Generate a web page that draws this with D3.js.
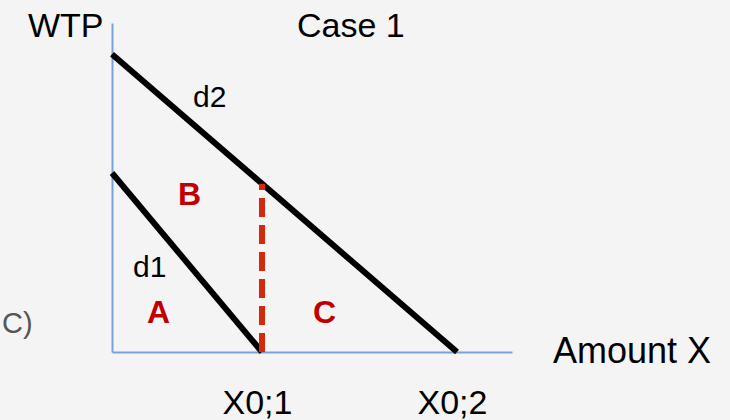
<!DOCTYPE html>
<html>
<head>
<meta charset="utf-8">
<script src="https://cdn.jsdelivr.net/npm/d3@7"></script>
<style>
  body { margin: 0; background: #f4f4f4; }
  svg { display: block; font-family: "Liberation Sans", Arial, sans-serif; }
</style>
</head>
<body>
<div id="container"></div>
<script>
/* CONSTANTS AND GLOBALS */
const width = 730,
  height = 420,
  margin = {top: 23, bottom: 68, left: 112, right: 218};

// demand curves: WTP at zero quantity, and quantity where WTP hits zero
const demandNames = ["d1", "d2"];
const intercepts = [54.4, 90.5];
const quantities = [37.5, 86.25];

// x tick labels sit under the two zero-WTP quantities
const tickLabels = ["X0;1", "X0;2"];

// area labels (data coords)
const areaNames = ["A", "B", "C"];
const areaX = [8.75, 16.5, 50.25];
const areaY = [8.8, 44.7, 8.8];

// curve labels (data coords)
const curveLabelX = [5.25, 20.25];
const curveLabelY = [22.8, 74.5];

/* SCALES */
const xScale = d3.scaleLinear()
  .domain([0, 100])
  .range([margin.left, width - margin.right]);

const yScale = d3.scaleLinear()
  .domain([0, 100])
  .range([height - margin.bottom, margin.top]);

/* CREATE SVG ELEMENT */
const svg = d3.select("#container").append("svg")
  .attr("width", width)
  .attr("height", height)
  .style("background-color", "#f4f4f4");

/* AXES */
const xAxis = d3.axisBottom(xScale)
  .tickValues(quantities)
  .tickFormat((d, i) => tickLabels[i])
  .tickSizeInner(0)
  .tickSizeOuter(0)
  .tickPadding(38);

const yAxis = d3.axisLeft(yScale)
  .tickValues([])
  .tickSizeOuter(0);

const gx = svg.append("g")
  .attr("transform", `translate(0,${yScale(0)})`)
  .call(xAxis);

const gy = svg.append("g")
  .attr("transform", `translate(${xScale(0)},0)`)
  .call(yAxis);

svg.selectAll(".domain")
  .attr("stroke", "#76a3da")
  .attr("stroke-width", 2);

gx.selectAll(".tick text")
  .attr("font-family", "Liberation Sans, Arial, sans-serif")
  .attr("font-size", 34)
  .attr("fill", "#000")
  .attr("dx", -5);

/* DEMAND LINES */
const demand = demandNames.map((name, i) => ({
  name: name,
  pts: [[0, intercepts[i]], [quantities[i], 0]]
}));

const line = d3.line()
  .x(d => xScale(d[0]))
  .y(d => yScale(d[1]));

svg.selectAll("path.demand")
  .data(demand)
  .join("path")
  .attr("class", "demand")
  .attr("d", d => line(d.pts))
  .attr("stroke", "#000")
  .attr("stroke-width", 6)
  .attr("fill", "none");

// dashed drop line from d2 at X0;1 down to the axis
const d2At = q => intercepts[1] * (1 - q / quantities[1]);
svg.append("path")
  .attr("d", line([[quantities[0], 0], [quantities[0], d2At(quantities[0])]]))
  .attr("stroke", "#d42a0c")
  .attr("stroke-width", 6)
  .attr("stroke-dasharray", "19,8")
  .attr("fill", "none");

/* LABELS */
svg.selectAll("text.curve")
  .data(demandNames)
  .join("text")
  .attr("class", "curve")
  .attr("x", (d, i) => xScale(curveLabelX[i]))
  .attr("y", (d, i) => yScale(curveLabelY[i]))
  .attr("font-size", 30)
  .attr("fill", "#000")
  .text(d => d);

svg.selectAll("text.area")
  .data(areaNames)
  .join("text")
  .attr("class", "area")
  .attr("x", (d, i) => xScale(areaX[i]))
  .attr("y", (d, i) => yScale(areaY[i]))
  .attr("font-size", 32)
  .attr("font-weight", "bold")
  .attr("fill", "#c00000")
  .text(d => d);

svg.append("text")
  .attr("x", 28).attr("y", 37)
  .attr("font-size", 34)
  .text("WTP");

svg.append("text")
  .attr("x", 297).attr("y", 37)
  .attr("font-size", 34)
  .text("Case 1");

svg.append("text")
  .attr("x", 553).attr("y", 363)
  .attr("font-size", 36)
  .text("Amount X");

svg.append("text")
  .attr("x", 2).attr("y", 333)
  .attr("font-size", 29)
  .attr("fill", "#555")
  .text("C)");
</script>
</body>
</html>
